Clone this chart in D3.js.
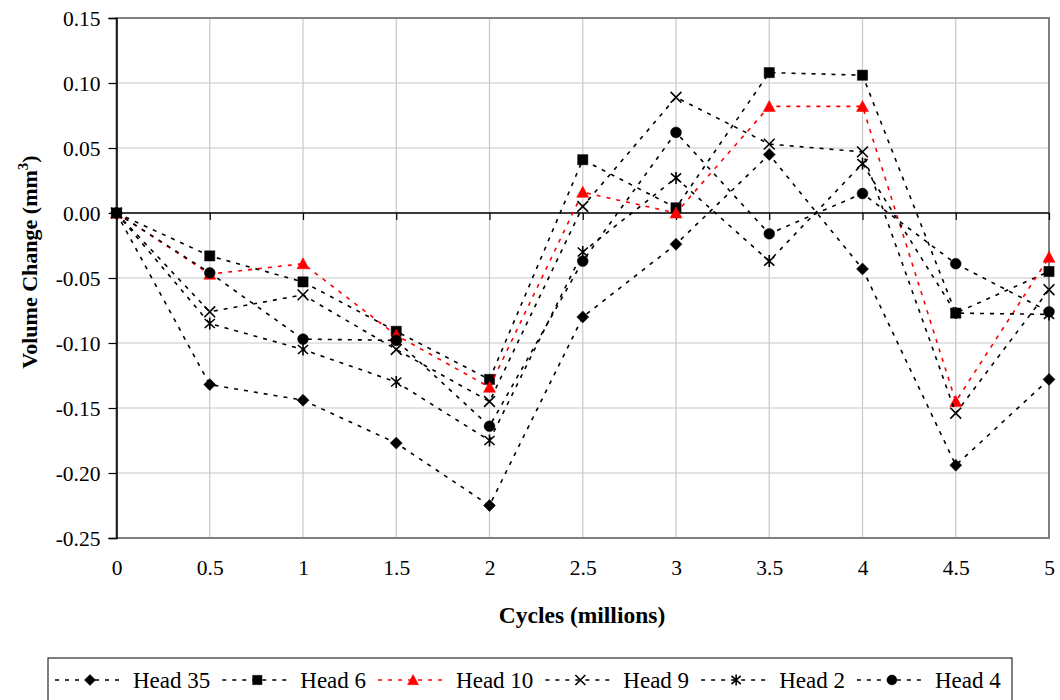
<!DOCTYPE html>
<html>
<head>
<meta charset="utf-8">
<script src="https://cdn.jsdelivr.net/npm/d3@7"></script>
<style>
  html, body { margin: 0; padding: 0; background: #fff; }
  svg { display: block; font-family: "Liberation Serif", "Times New Roman", serif; }
</style>
</head>
<body>
<svg id="chart" width="1060" height="700"></svg>
<script>
// Volume change of each head over the test, in mm^3, sampled every half million cycles
const cycles = [0, 0.5, 1, 1.5, 2, 2.5, 3, 3.5, 4, 4.5, 5];
const head35 = [0, -0.132, -0.144, -0.177, -0.225, -0.080, -0.024, 0.045, -0.043, -0.194, -0.128];
const head6  = [0, -0.033, -0.053, -0.091, -0.128, 0.041, 0.004, 0.108, 0.106, -0.077, -0.045];
const head10 = [0, -0.047, -0.039, -0.094, -0.134, 0.016, 0.000, 0.082, 0.082, -0.145, -0.034];
const head9  = [0, -0.076, -0.063, -0.105, -0.145, 0.005, 0.089, 0.053, 0.047, -0.154, -0.059];
const head2  = [0, -0.085, -0.105, -0.130, -0.175, -0.030, 0.027, -0.037, 0.038, -0.077, -0.078];
const head4  = [0, -0.046, -0.097, -0.098, -0.164, -0.037, 0.062, -0.016, 0.015, -0.039, -0.076];

const seriesNames = ["Head 35", "Head 6", "Head 10", "Head 9", "Head 2", "Head 4"];
const seriesValues = [head35, head6, head10, head9, head2, head4];
const seriesColors = ["#000", "#000", "#ff0000", "#000", "#000", "#000"];
const seriesMarkers = ["diamond", "square", "triangle", "cross", "star", "circle"];

const yTicks = [0.15, 0.10, 0.05, 0.00, -0.05, -0.10, -0.15, -0.20, -0.25];
const xTicks = [0, 0.5, 1, 1.5, 2, 2.5, 3, 3.5, 4, 4.5, 5];
const xTickLabels = ["0", "0.5", "1", "1.5", "2", "2.5", "3", "3.5", "4", "4.5", "5"];

const svg = d3.select("#chart");
const plot = { left: 116.5, right: 1049, top: 18, bottom: 538 };

const x = d3.scaleLinear().domain([0, 5]).range([plot.left, plot.right]);
const y = d3.scaleLinear().domain([-0.25, 0.15]).range([plot.bottom, plot.top]);

// Gridlines
const grid = svg.append("g");
grid.selectAll("line.hg").data(yTicks).join("line")
  .attr("x1", plot.left).attr("x2", plot.right)
  .attr("y1", d => y(d)).attr("y2", d => y(d))
  .attr("stroke", "#c8c8c8").attr("stroke-width", 1.2);
grid.selectAll("line.vg").data(xTicks).join("line")
  .attr("x1", d => x(d)).attr("x2", d => x(d))
  .attr("y1", plot.top).attr("y2", plot.bottom)
  .attr("stroke", "#c8c8c8").attr("stroke-width", 1.2);

// Plot frame
svg.append("rect")
  .attr("x", plot.left).attr("y", plot.top)
  .attr("width", plot.right - plot.left).attr("height", plot.bottom - plot.top)
  .attr("fill", "none").attr("stroke", "#808080").attr("stroke-width", 2);

// Y axis (left)
const yAxis = d3.axisLeft(y).tickValues(yTicks).tickSize(8).tickFormat(d3.format(".2f"));
const gy = svg.append("g").attr("transform", `translate(${plot.left},0)`).call(yAxis);
gy.select(".domain").attr("stroke", "#000").attr("stroke-width", 1.5);
gy.selectAll(".tick line").attr("stroke", "#000").attr("stroke-width", 1.2);
gy.selectAll(".tick text")
  .attr("x", -16).attr("dy", "0.34em")
  .style("font-family", "'Liberation Serif', serif").style("font-size", "21.5px").attr("fill", "#000")
  .text(d => d3.format(".2f")(d).replace("−", "-"));

// X axis drawn along the zero line
const xAxis = d3.axisBottom(x).tickValues(xTicks).tickSize(7).tickFormat((d, i) => xTickLabels[i]);
const gx = svg.append("g").attr("transform", `translate(0,${y(0)})`).call(xAxis);
gx.select(".domain").attr("stroke", "#000").attr("stroke-width", 1.5).attr("d", `M${plot.left},0H${plot.right}`);
gx.selectAll(".tick line").attr("stroke", "#000").attr("stroke-width", 1.2);
gx.selectAll(".tick text")
  .attr("y", y(-0.25) - y(0) + 37).attr("dy", "0")
  .style("font-family", "'Liberation Serif', serif").style("font-size", "21.5px").attr("fill", "#000");

// Marker shapes
function markerPath(type, s) {
  switch (type) {
    case "diamond": return `M0,${-s}L${s},0L0,${s}L${-s},0Z`;
    case "square": return `M${-s * 0.85},${-s * 0.85}H${s * 0.85}V${s * 0.85}H${-s * 0.85}Z`;
    case "triangle": return `M0,${-s}L${s},${s * 0.85}L${-s},${s * 0.85}Z`;
    case "circle": return d3.symbol(d3.symbolCircle, Math.PI * (s * 0.9) * (s * 0.9))();
    case "cross": return `M${-s * 0.9},${-s * 0.9}L${s * 0.9},${s * 0.9}M${s * 0.9},${-s * 0.9}L${-s * 0.9},${s * 0.9}`;
    case "star": return `M${-s * 0.85},${-s * 0.75}L${s * 0.85},${s * 0.75}M${s * 0.85},${-s * 0.75}L${-s * 0.85},${s * 0.75}M0,${-s}V${s}`;
  }
}
function drawMarker(g, type, color, s) {
  const open = type === "cross" || type === "star";
  g.append("path").attr("d", markerPath(type, s))
    .attr("fill", open ? "none" : color)
    .attr("stroke", color)
    .attr("stroke-width", open ? 1.6 : 0.5);
}

const line = d3.line().x(d => x(d[0])).y(d => y(d[1]));

// Series lines and markers
seriesValues.forEach((vals, i) => {
  const pts = cycles.map((c, j) => [c, vals[j]]);
  const g = svg.append("g");
  g.append("path").datum(pts).attr("d", line)
    .attr("fill", "none").attr("stroke", seriesColors[i])
    .attr("stroke-width", 1.6).attr("stroke-dasharray", "4,6");
  pts.forEach(p => {
    const mg = g.append("g").attr("transform", `translate(${x(p[0])},${y(p[1])})`);
    drawMarker(mg, seriesMarkers[i], seriesColors[i], 6);
  });
});

// Axis titles
svg.append("text")
  .attr("x", 582).attr("y", 623).attr("text-anchor", "middle")
  .style("font-size", "23.5px").style("font-weight", "bold").text("Cycles (millions)");

const yt = svg.append("text")
  .attr("transform", "translate(37,262) rotate(-90)")
  .attr("text-anchor", "middle")
  .style("font-size", "22px").style("font-weight", "bold");
yt.append("tspan").text("Volume Change (mm");
yt.append("tspan").attr("dy", "-9").style("font-size", "15px").text("3");
yt.append("tspan").attr("dy", "9").text(")");

// Legend
const legend = svg.append("g");
legend.append("rect")
  .attr("x", 48).attr("y", 658).attr("width", 964).attr("height", 60)
  .attr("fill", "#fff").attr("stroke", "#000").attr("stroke-width", 1);
let lx = 55;
seriesNames.forEach((name, i) => {
  const item = legend.append("g");
  item.append("line").attr("x1", lx).attr("x2", lx + 68).attr("y1", 680).attr("y2", 680)
    .attr("stroke", seriesColors[i]).attr("stroke-width", 1.6).attr("stroke-dasharray", "4,6");
  const mg = item.append("g").attr("transform", `translate(${lx + 35},680)`);
  drawMarker(mg, seriesMarkers[i], seriesColors[i], 5.5);
  const t = item.append("text").attr("x", lx + 78).attr("y", 680).attr("dy", "0.35em")
    .style("font-size", "23px").text(name);
  lx = lx + 78 + t.node().getComputedTextLength() + 12;
});
</script>
</body>
</html>
